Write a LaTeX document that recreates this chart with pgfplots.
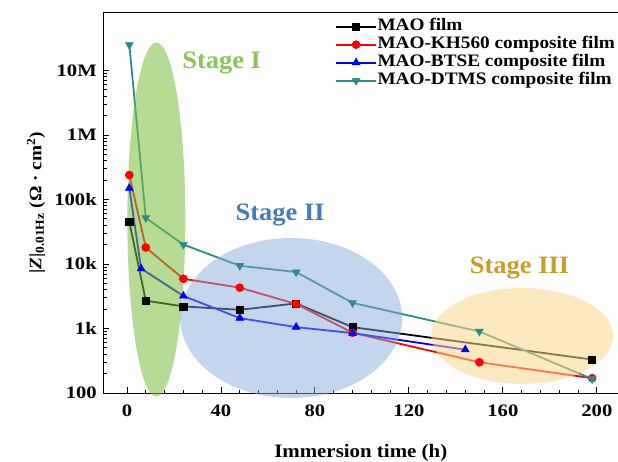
\documentclass[border=0pt]{standalone}
\usepackage{fontspec}
\setmainfont{Liberation Serif}
\newfontfamily\tickfont{Liberation Serif}[FakeStretch=1.18]
\newfontfamily\labfont{Liberation Serif}[FakeStretch=1.1]
\newfontfamily\legfont{Liberation Serif}[FakeStretch=1.1]
\newfontfamily\stagefont{Liberation Serif}[FakeStretch=1.06]
\usepackage{pgfplots}
\pgfplotsset{compat=1.18}
\definecolor{dtms}{RGB}{46,139,135}
\definecolor{gI}{RGB}{120,190,60}
\definecolor{gII}{RGB}{130,170,220}
\definecolor{gIII}{RGB}{250,215,140}
\definecolor{tI}{RGB}{140,196,90}
\definecolor{tII}{RGB}{70,125,185}
\definecolor{tIII}{RGB}{196,160,40}
\begin{document}
\begin{tikzpicture}
\begin{axis}[
  at={(0,0)}, anchor=south west,
  scale only axis, width=514.5pt, height=380pt,
  ymode=log, xmin=-10, xmax=209, ymin=100, ymax=7.8e7,
  axis x line*=box, axis y line*=left,
  xtick pos=bottom, ytick pos=left,
  xtick={0,40,80,120,160,200}, xticklabels={0,40,80,120,160,200},
  minor x tick num=4,
  ytick={100,1000,10000,100000,1000000,10000000},
  yticklabels={100,1k,10k,100k,1M,10M},
  major tick length=6pt, minor tick length=3.5pt,
  tick style={black, line width=0.9pt},
  axis line style={line width=1pt},
  tick align=inside,
  x tick label style={font=\tickfont\fontsize{17.5}{18}\selectfont\bfseries, inner sep=0pt, anchor=north, yshift=-12pt},
  y tick label style={font=\tickfont\fontsize{17.5}{18}\selectfont\bfseries, inner sep=0pt, anchor=east, xshift=-6.5pt},
  xlabel={Immersion time (h)},
  xlabel style={font=\labfont\fontsize{19}{20}\selectfont\bfseries, at={(axis description cs:0.5,0)}, anchor=base, yshift=-64.7pt},
  ylabel={|\textit{Z}|\textsubscript{0.01Hz} (Ω · cm\textsuperscript{2})},
  ylabel style={font=\labfont\fontsize{17.5}{18}\selectfont\bfseries, at={(axis description cs:-0.1312,0.5)}, anchor=center},
  clip=false,
  legend style={at={(axis description cs:0.45,0.987)}, anchor=north west, draw=none, fill=none,
    font=\legfont\fontsize{17.5}{18}\selectfont\bfseries, inner sep=0pt, row sep=1pt,
    nodes={inner sep=0.5pt, text height=12pt, text depth=4pt}},
  legend cell align=left,
  legend image code/.code={\draw[mark repeat=2,mark phase=2,line width=1.8pt,#1] plot coordinates {(0pt,0pt) (20pt,0pt) (40pt,0pt)};},
  every axis plot/.append style={line width=1.8pt},
]
\addplot[black, mark=square*, mark size=3.6pt, mark options={line width=0.6pt}] coordinates {
(1,45000) (8,2700) (24,2200) (48,1950) (72,2450) (96,1050) (198,330)};
\addlegendentry{MAO film}
\addplot[red, mark=*, mark size=4pt, mark options={line width=0.6pt}] coordinates {
(1,240000) (8,18000) (24,5900) (48,4300) (72,2400) (96,860) (150,300) (198,170)};
\addlegendentry{MAO-KH560 composite film}
\addplot[blue, mark=triangle*, mark size=4.5pt, mark options={line width=0.6pt}] coordinates {
(1,150000) (6,8500) (24,3200) (48,1450) (72,1050) (96,850) (144,470)};
\addlegendentry{MAO-BTSE composite film}
\addplot[dtms, mark=triangle*, mark options={rotate=180, line width=0.6pt}, mark size=4.5pt] coordinates {
(1,25000000) (8,52000) (24,20000) (48,9400) (72,7500) (96,2500) (150,900) (198,165)};
\addlegendentry{MAO-DTMS composite film}
\fill[gI, opacity=0.55] (axis cs:12.5,49000) ellipse [x radius=29pt, y radius=177pt];
\fill[gII, opacity=0.48] (axis cs:69.9,1456) ellipse [x radius=111pt, y radius=80pt];
\fill[gIII, opacity=0.55] (axis cs:168.2,766) ellipse [x radius=91pt, y radius=48pt];
\node[text=tI, font=\stagefont\fontsize{25}{26}\selectfont\bfseries] at (axis cs:40.3,1.3e7) {Stage I};
\node[text=tII, font=\stagefont\fontsize{25}{26}\selectfont\bfseries] at (axis cs:65.2,57500) {Stage II};
\node[text=tIII, font=\stagefont\fontsize{25}{26}\selectfont\bfseries] at (axis cs:167.1,8670) {Stage III};
\end{axis}
\pgfresetboundingbox
\useasboundingbox (-103.5pt,-68pt) rectangle (514.5pt,393pt);
\end{tikzpicture}
\end{document}
